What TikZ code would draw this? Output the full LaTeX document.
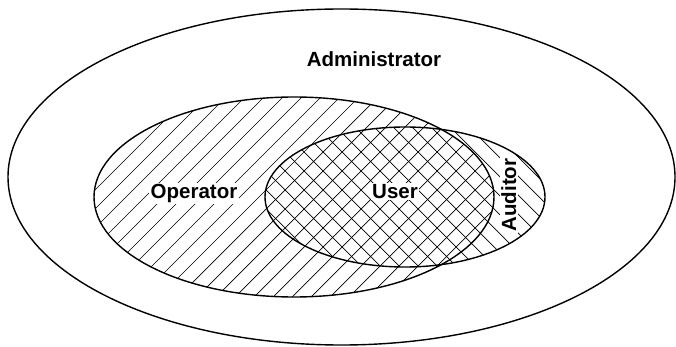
\documentclass[tikz,border=0pt]{standalone}
\usepackage{fontspec}
\setmainfont{Liberation Sans}
\begin{document}
\begin{tikzpicture}[x=1pt,y=-1pt,
  outline/.style={draw=black,line width=1.4pt},
  hatch/.style={draw=black,line width=0.7pt},
  lbl/.style={font=\fontsize{20.5}{24}\selectfont\bfseries,inner sep=0pt,anchor=base},
  lblbg/.style={lbl,fill=white,inner sep=1.5pt}]
\useasboundingbox[fill=white] (0,0) rectangle (676,347);
% Operator hatching (/// lines)
\begin{scope}
  \clip (294,197) ellipse [x radius=200, y radius=100];
  \foreach \k in {9,...,43} {\draw[hatch] ({19*\k},0) -- ++(-400,400);}
\end{scope}
% Auditor hatching (\\\ lines)
\begin{scope}
  \clip (405,197) ellipse [x radius=140, y radius=70];
  \foreach \k in {-1,...,23} {\draw[hatch] ({19*\k},0) -- ++(400,400);}
\end{scope}
% outlines
\draw[outline] (341.5,177) ellipse [x radius=333.5, y radius=168];
\draw[outline] (294,197) ellipse [x radius=200, y radius=100];
\draw[outline] (405,197) ellipse [x radius=140, y radius=70];
% labels
\node[lbl] (admin) at (374,67) {Administrator};
\node[lblbg] (oper) at (194,198.5) {Operator};
\node[lblbg] (user) at (395,198.5) {User};
\node[lblbg,rotate=90] (aud) at (516,195) {Auditor};
\end{tikzpicture}
\end{document}
